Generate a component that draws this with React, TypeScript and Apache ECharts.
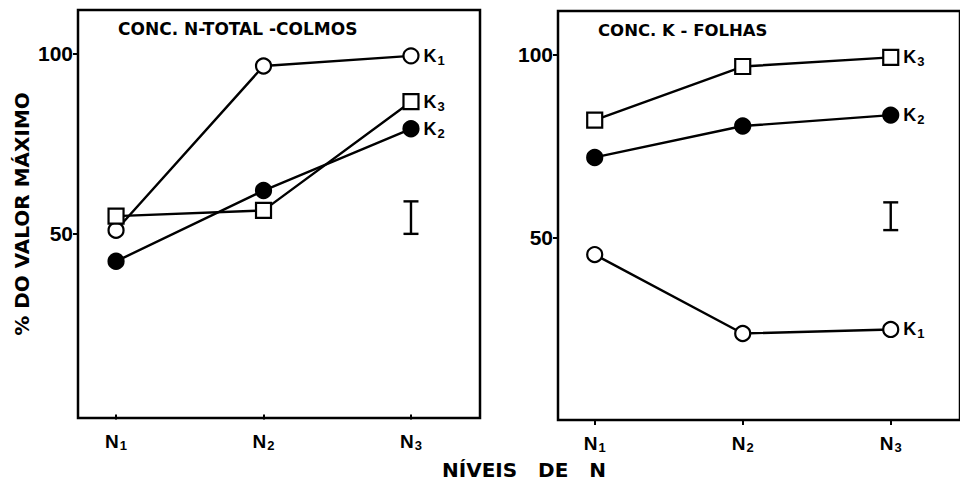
import React, { useEffect, useRef } from "react";
import * as echarts from "echarts";

const nLevels = [1, 2, 3];
const nLabels = ["N{s|1}", "N{s|2}", "N{s|3}"];
const yTicks = [50, 100];

// Left panel: Conc. N-total - colmos
const leftK1 = [51, 96.5, 99.3];
const leftK2 = [42.4, 62, 79.1];
const leftK3 = [54.9, 56.5, 86.6];
const leftErr = [3, 50, 59];

// Right panel: Conc. K - folhas
const rightK1 = [45.3, 23.7, 24.8];
const rightK2 = [71.9, 80.5, 83.5];
const rightK3 = [82.1, 96.8, 99.3];
const rightErr = [3, 52, 59.6];

const seriesNames = ["K{s|1}", "K{s|2}", "K{s|3}"];

const FONT = "Liberation Sans";
const WIDE = "DejaVu Sans";

const subRich = {
  s: { fontSize: 13, fontWeight: "bold", fontFamily: FONT, color: "#000", padding: [9, 0, 0, 1] },
};

function lineSeries(idx: number, values: number[], kind: "open" | "filled" | "square", name: string) {
  const symbol = kind === "square" ? "rect" : "circle";
  const size = 15;
  const fill = kind === "filled" ? "#000" : "#fff";
  return {
    type: "line",
    xAxisIndex: idx,
    yAxisIndex: idx,
    symbol,
    symbolSize: size,
    showAllSymbol: true,
    lineStyle: { color: "#000", width: 2.4 },
    itemStyle: { color: fill, borderColor: "#000", borderWidth: 2.2 },
    data: values.map((v, i) => {
      const item: any = { value: [nLevels[i], v] };
      if (i === values.length - 1) {
        item.label = {
          show: true,
          position: "right",
          distance: 4,
          formatter: name,
          fontSize: 18,
          fontWeight: "bold",
          fontFamily: FONT,
          color: "#000",
          rich: subRich,
        };
      }
      return item;
    }),
  };
}

function errSeries(idx: number, err: number[]) {
  return {
    type: "custom",
    xAxisIndex: idx,
    yAxisIndex: idx,
    data: [err],
    renderItem: (_p: any, api: any) => {
      const x = api.value(0);
      const lo = api.coord([x, api.value(1)]);
      const hi = api.coord([x, api.value(2)]);
      const w = 7.5;
      const st = { stroke: "#000", lineWidth: 2.4 };
      return {
        type: "group",
        children: [
          { type: "line", shape: { x1: lo[0], y1: lo[1], x2: hi[0], y2: hi[1] }, style: st },
          { type: "line", shape: { x1: lo[0] - w, y1: lo[1], x2: lo[0] + w, y2: lo[1] }, style: st },
          { type: "line", shape: { x1: hi[0] - w, y1: hi[1], x2: hi[0] + w, y2: hi[1] }, style: st },
        ],
      };
    },
  };
}

function xAxis(idx: number, min: number, max: number) {
  return {
    type: "value",
    gridIndex: idx,
    min,
    max,
    splitLine: { show: false },
    axisLine: { show: false },
    axisTick: { show: true, customValues: nLevels, length: 5, lineStyle: { color: "#000", width: 2 } },
    axisLabel: {
      show: true,
      customValues: nLevels,
      margin: 12,
      formatter: (v: number) => nLabels[nLevels.indexOf(Math.round(v))] || "",
      fontSize: 19,
      fontWeight: "bold",
      fontFamily: FONT,
      color: "#000",
      rich: subRich,
    },
  };
}

function yAxis(idx: number, min: number, max: number, name?: string) {
  return {
    type: "value",
    gridIndex: idx,
    min,
    max,
    splitLine: { show: false },
    axisLine: { show: false },
    axisTick: { show: true, customValues: yTicks, length: 5, lineStyle: { color: "#000", width: 2 } },
    axisLabel: {
      show: true,
      customValues: yTicks,
      margin: 5,
      fontSize: 21,
      fontWeight: "bold",
      fontFamily: FONT,
      color: "#000",
    },
    name: name,
    nameLocation: "middle",
    nameGap: 46,
    nameRotate: 90,
    nameTextStyle: { fontSize: 20, fontWeight: "bold", fontFamily: WIDE, color: "#000" },
  };
}

export default function App() {
  const ref = useRef<HTMLDivElement>(null);
  useEffect(() => {
    if (!ref.current) return;
    const chart = echarts.init(ref.current, undefined, { renderer: "svg" });
    chart.setOption({
      animation: false,
      backgroundColor: "#fff",
      grid: [
        { left: 78, top: 10, width: 402, height: 408, show: true, borderColor: "#000", borderWidth: 2.5, backgroundColor: "transparent" },
        { left: 558, top: 11, width: 405, height: 409, show: true, borderColor: "#000", borderWidth: 2.5, backgroundColor: "transparent" },
      ],
      xAxis: [xAxis(0, 0.742, 3.468), xAxis(1, 0.752, 3.468)],
      yAxis: [yAxis(0, -1, 112, "% DO VALOR MÁXIMO"), yAxis(1, 0, 112)],
      graphic: [
        { type: "text", x: 118, y: 29, style: { text: "CONC. N-TOTAL -COLMOS", fontSize: 17, fontWeight: "bold", fontFamily: WIDE, fill: "#000", textVerticalAlign: "middle" } },
        { type: "text", x: 598, y: 30, style: { text: "CONC. K - FOLHAS", fontSize: 16.5, fontWeight: "bold", fontFamily: WIDE, fill: "#000", textVerticalAlign: "middle" } },
        { type: "text", x: 524, y: 470, style: { text: "NÍVEIS   DE   N", fontSize: 20, fontWeight: "bold", fontFamily: WIDE, fill: "#000", textAlign: "center", textVerticalAlign: "middle" } },
      ],
      series: [
        lineSeries(0, leftK1, "open", seriesNames[0]),
        lineSeries(0, leftK2, "filled", seriesNames[1]),
        lineSeries(0, leftK3, "square", seriesNames[2]),
        errSeries(0, leftErr),
        lineSeries(1, rightK1, "open", seriesNames[0]),
        lineSeries(1, rightK2, "filled", seriesNames[1]),
        lineSeries(1, rightK3, "square", seriesNames[2]),
        errSeries(1, rightErr),
      ],
    });
    return () => chart.dispose();
  }, []);
  return <div ref={ref} style={{ position: "fixed", left: 0, top: 0, width: 960, height: 483 }} />;
}
